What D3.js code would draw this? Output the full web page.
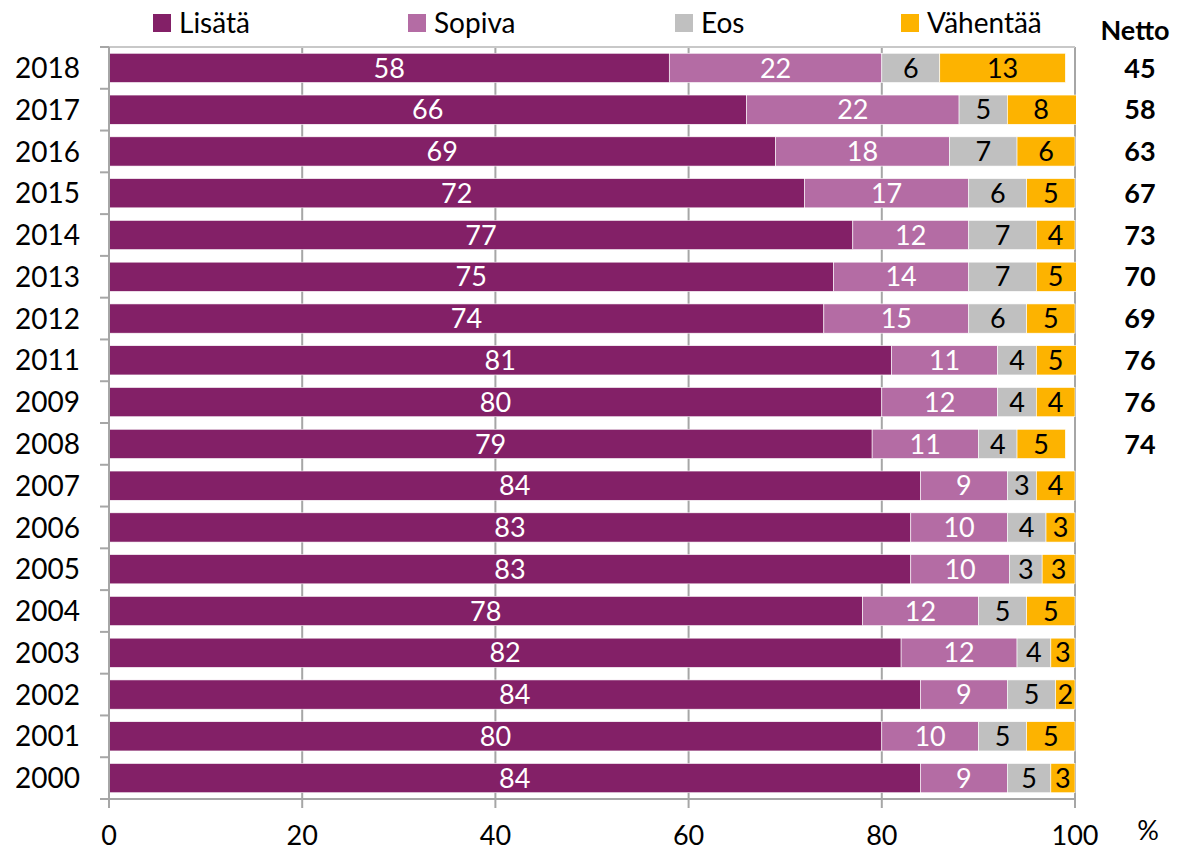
<!DOCTYPE html>
<html>
<head>
<meta charset="utf-8">
<script src="https://cdn.jsdelivr.net/npm/d3@7"></script>
<style>
  body { margin: 0; background: #fff; }
  text { font-family: Lato, "Open Sans", sans-serif; }
</style>
</head>
<body>
<svg id="chart" width="1177" height="853"></svg>
<script>
// data
var years = ["2018", "2017", "2016", "2015", "2014", "2013", "2012", "2011", "2009", "2008",
             "2007", "2006", "2005", "2004", "2003", "2002", "2001", "2000"];
var lisata   = [58, 66, 69, 72, 77, 75, 74, 81, 80, 79, 84, 83, 83,   78, 82,  84, 80, 84];
var sopiva   = [22, 22, 18, 17, 12, 14, 15, 11, 12, 11,  9, 10, 10.2, 12, 12,   9, 10,  9];
var eos      = [ 6,  5,  7,  6,  7,  7,  6,  4,  4,  4,  3,  4,  3.4,  5, 3.5,  5,  5, 4.5];
var vahentaa = [13,  8,  6,  5,  4,  5,  5,  5,  4,  5,  4,  3,  3.4,  5, 2.5,  2,  5, 2.5];
var netto    = [45, 58, 63, 67, 73, 70, 69, 76, 76, 74, null, null, null, null, null, null, null, null];
var seriesNames = ["Lisätä", "Sopiva", "Eos", "Vähentää"];
var colors = ["#832067", "#B46CA4", "#C0C0C0", "#FDB300"];
var labelColors = ["#fff", "#fff", "#000", "#000"];
var xTicks = [0, 20, 40, 60, 80, 100];

var svg = d3.select("#chart");
var plotLeft = 109, plotRight = 1075, plotTop = 47, plotBottom = 799;

var rows = years.map(function(y, i) {
    return { year: y, Lisätä: lisata[i], Sopiva: sopiva[i], Eos: eos[i], "Vähentää": vahentaa[i], netto: netto[i] };
});

var x = d3.scaleLinear().domain([0, 100]).range([plotLeft, plotRight]);
var y = d3.scaleBand().domain(years).range([plotTop, plotBottom]).paddingInner(0.3).paddingOuter(0.15);

var stack = d3.stack().keys(seriesNames)(rows);

svg.append("clipPath").attr("id", "plotclip")
    .append("rect").attr("x", plotLeft).attr("y", plotTop)
    .attr("width", plotRight - plotLeft + 1).attr("height", plotBottom - plotTop);

// gridlines
svg.append("g").selectAll("line").data(xTicks).enter().append("line")
    .attr("x1", function(d) { return x(d); }).attr("x2", function(d) { return x(d); })
    .attr("y1", plotTop).attr("y2", plotBottom)
    .attr("stroke", "#A6A6A6").attr("stroke-width", 2);
svg.append("line").attr("x1", plotLeft).attr("x2", plotRight).attr("y1", plotTop).attr("y2", plotTop)
    .attr("stroke", "#C8C8C8").attr("stroke-width", 2);

// bars
var layers = svg.append("g").attr("clip-path", "url(#plotclip)")
    .selectAll("g").data(stack).enter().append("g")
    .attr("fill", function(d, i) { return colors[i]; });

layers.selectAll("rect").data(function(d) { return d; }).enter().append("rect")
    .attr("x", function(d) { return x(d[0]); })
    .attr("width", function(d) { return x(d[1]) - x(d[0]); })
    .attr("y", function(d) { return y(d.data.year); })
    .attr("height", y.bandwidth())
    .attr("stroke", "#fff").attr("stroke-width", 0.6);

// value labels
stack.forEach(function(s, si) {
    svg.append("g").selectAll("text").data(s).enter().append("text")
        .attr("x", function(d) { return (x(d[0]) + x(Math.min(d[1], 100))) / 2; })
        .attr("y", function(d) { return y(d.data.year) + y.bandwidth() / 2; })
        .attr("dy", "0.36em")
        .attr("text-anchor", "middle")
        .attr("font-size", 27)
        .attr("fill", labelColors[si])
        .text(function(d) { return Math.round(d[1] - d[0]); });
});

// axes
var yAxis = svg.append("g").attr("transform", "translate(" + plotLeft + ",0)");
yAxis.append("line").attr("x1", 0).attr("x2", 0).attr("y1", plotTop).attr("y2", plotBottom + 9)
    .attr("stroke", "#A6A6A6").attr("stroke-width", 2);
var bounds = years.map(function(d) { return y(d) - y.step() * y.paddingInner() / 2; });
bounds[0] = plotTop;
bounds.push(plotBottom);
yAxis.selectAll(".tk").data(bounds).enter().append("line")
    .attr("x1", -9).attr("x2", 0)
    .attr("y1", function(d) { return d; }).attr("y2", function(d) { return d; })
    .attr("stroke", "#A6A6A6").attr("stroke-width", 2);
yAxis.selectAll(".lbl").data(years).enter().append("text")
    .attr("x", -29).attr("y", function(d) { return y(d) + y.bandwidth() / 2; })
    .attr("dy", "0.36em").attr("text-anchor", "end").attr("font-size", 28)
    .text(function(d) { return d; });

var xAxis = svg.append("g").attr("transform", "translate(0," + plotBottom + ")");
xAxis.append("line").attr("x1", plotLeft - 9).attr("x2", plotRight).attr("y1", 0).attr("y2", 0)
    .attr("stroke", "#A6A6A6").attr("stroke-width", 2);
xAxis.selectAll(".tk").data(xTicks).enter().append("line")
    .attr("x1", function(d) { return x(d); }).attr("x2", function(d) { return x(d); })
    .attr("y1", 0).attr("y2", 9)
    .attr("stroke", "#A6A6A6").attr("stroke-width", 2);
xAxis.selectAll(".lbl").data(xTicks).enter().append("text")
    .attr("x", function(d) { return x(d); }).attr("y", 46)
    .attr("text-anchor", "middle").attr("font-size", 27)
    .text(function(d) { return d; });
svg.append("text").attr("x", 1148).attr("y", 840).attr("text-anchor", "middle")
    .attr("font-size", 27).text("%");

// netto column
svg.append("text").attr("x", 1135).attr("y", 40).attr("text-anchor", "middle")
    .attr("font-size", 27).attr("font-weight", "bold").text("Netto");
svg.append("g").selectAll("text").data(rows.filter(function(d) { return d.netto != null; }))
    .enter().append("text")
    .attr("x", 1140).attr("y", function(d) { return y(d.year) + y.bandwidth() / 2; })
    .attr("dy", "0.36em").attr("text-anchor", "middle")
    .attr("font-size", 27).attr("font-weight", "bold")
    .text(function(d) { return d.netto; });

// legend
var legendX = [153, 408, 675, 901];
var legend = svg.append("g").selectAll("g").data(seriesNames).enter().append("g")
    .attr("transform", function(d, i) { return "translate(" + legendX[i] + ",14)"; });
legend.append("rect").attr("width", 18).attr("height", 18)
    .attr("fill", function(d, i) { return colors[i]; });
legend.append("text").attr("x", 26).attr("y", 9).attr("dy", "0.36em")
    .attr("font-size", 28).text(function(d) { return d; });
</script>
</body>
</html>
